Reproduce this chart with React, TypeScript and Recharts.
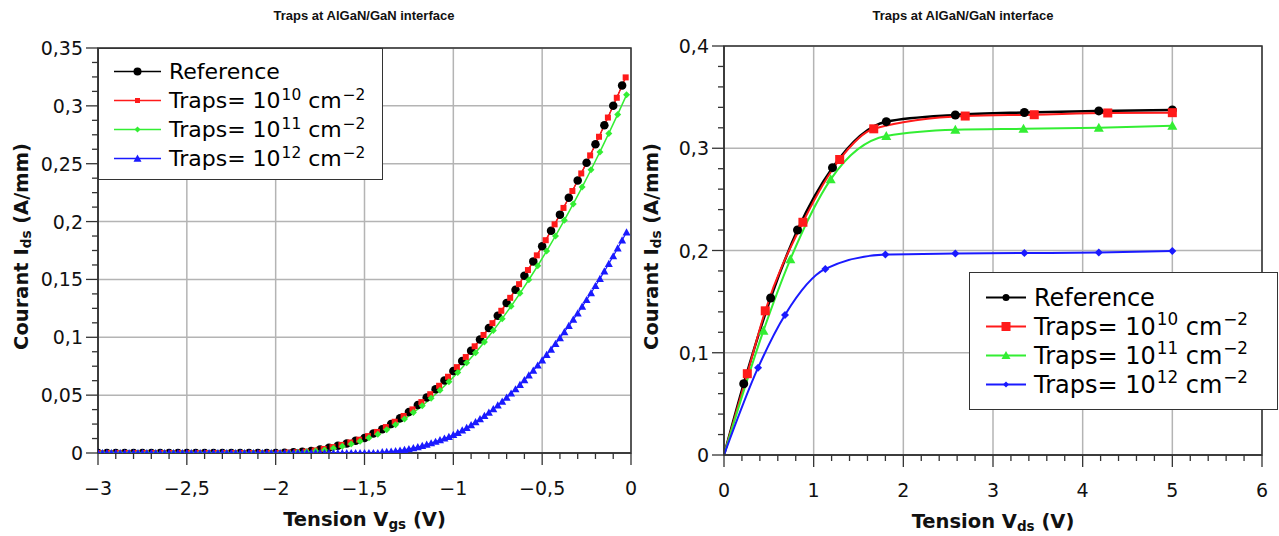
import React from "react";
import { LineChart, Line, XAxis, YAxis, CartesianGrid, ReferenceArea, Label } from "recharts";

// ---- left chart: Ids(Vgs) ----
const refVgs = [-3, -2.95, -2.9, -2.85, -2.8, -2.75, -2.7, -2.65, -2.6, -2.55, -2.5, -2.45, -2.4, -2.35, -2.3, -2.25, -2.2, -2.15, -2.1, -2.05, -2, -1.95, -1.9, -1.85, -1.8, -1.75, -1.7, -1.65, -1.6, -1.55, -1.5, -1.45, -1.4, -1.35, -1.3, -1.25, -1.2, -1.15, -1.1, -1.05, -1, -0.95, -0.9, -0.85, -0.8, -0.75, -0.7, -0.65, -0.6, -0.55, -0.5, -0.45, -0.4, -0.35, -0.3, -0.25, -0.2, -0.15, -0.1, -0.05];
const refIdsVgs = [0, 0, 0, 0, 0, 0, 0, 0, 0, 0, 0, 0, 0, 0, 0, 0, 0, 0, 0, 0, 0.0001, 0.0003, 0.0006, 0.001, 0.0018, 0.003, 0.0045, 0.0062, 0.0082, 0.0105, 0.013, 0.0168, 0.0205, 0.025, 0.03, 0.0355, 0.0414, 0.048, 0.0551, 0.0627, 0.0708, 0.0794, 0.0884, 0.098, 0.108, 0.1186, 0.1296, 0.1411, 0.1531, 0.1656, 0.1786, 0.1921, 0.206, 0.2205, 0.2354, 0.2509, 0.2668, 0.2832, 0.3001, 0.3175];

const t10Vgs = [-2.98, -2.93, -2.88, -2.83, -2.78, -2.73, -2.68, -2.63, -2.58, -2.53, -2.48, -2.43, -2.38, -2.33, -2.28, -2.23, -2.18, -2.13, -2.08, -2.03, -1.98, -1.93, -1.88, -1.83, -1.78, -1.73, -1.68, -1.63, -1.58, -1.53, -1.48, -1.43, -1.38, -1.33, -1.28, -1.23, -1.18, -1.13, -1.08, -1.03, -0.98, -0.93, -0.88, -0.83, -0.78, -0.73, -0.68, -0.63, -0.58, -0.53, -0.48, -0.43, -0.38, -0.33, -0.28, -0.23, -0.18, -0.13, -0.08, -0.03];
const t10IdsVgs = [0, 0, 0, 0, 0, 0, 0, 0, 0, 0, 0, 0, 0, 0, 0, 0, 0, 0, 0, 0, 0, 0.0004, 0.0007, 0.0012, 0.0022, 0.0035, 0.0051, 0.007, 0.0091, 0.0115, 0.0146, 0.0182, 0.0224, 0.027, 0.032, 0.0377, 0.044, 0.0508, 0.0581, 0.0659, 0.0742, 0.0829, 0.0922, 0.102, 0.1122, 0.1229, 0.1341, 0.1459, 0.1581, 0.1708, 0.1839, 0.1976, 0.2118, 0.2264, 0.2416, 0.2572, 0.2733, 0.2899, 0.307, 0.3246];

const t11Vgs = [-2.975, -2.925, -2.875, -2.825, -2.775, -2.725, -2.675, -2.625, -2.575, -2.525, -2.475, -2.425, -2.375, -2.325, -2.275, -2.225, -2.175, -2.125, -2.075, -2.025, -1.975, -1.925, -1.875, -1.825, -1.775, -1.725, -1.675, -1.625, -1.575, -1.525, -1.475, -1.425, -1.375, -1.325, -1.275, -1.225, -1.175, -1.125, -1.075, -1.025, -0.975, -0.925, -0.875, -0.825, -0.775, -0.725, -0.675, -0.625, -0.575, -0.525, -0.475, -0.425, -0.375, -0.325, -0.275, -0.225, -0.175, -0.125, -0.075, -0.025];
const t11IdsVgs = [0, 0, 0, 0, 0, 0, 0, 0, 0, 0, 0, 0, 0, 0, 0, 0, 0, 0, 0, 0, 0, 0.0003, 0.0006, 0.001, 0.0017, 0.0027, 0.004, 0.0058, 0.0078, 0.0102, 0.0131, 0.0163, 0.0201, 0.0244, 0.0293, 0.0349, 0.0408, 0.0473, 0.0542, 0.0616, 0.0696, 0.0779, 0.0867, 0.096, 0.1058, 0.1161, 0.1268, 0.138, 0.1497, 0.1618, 0.1745, 0.1876, 0.2012, 0.2152, 0.2298, 0.2448, 0.2602, 0.2762, 0.2926, 0.3095];

const t12Vgs = [-3, -2.975, -2.95, -2.925, -2.9, -2.875, -2.85, -2.825, -2.8, -2.775, -2.75, -2.725, -2.7, -2.675, -2.65, -2.625, -2.6, -2.575, -2.55, -2.525, -2.5, -2.475, -2.45, -2.425, -2.4, -2.375, -2.35, -2.325, -2.3, -2.275, -2.25, -2.225, -2.2, -2.175, -2.15, -2.125, -2.1, -2.075, -2.05, -2.025, -2, -1.975, -1.95, -1.925, -1.9, -1.875, -1.85, -1.825, -1.8, -1.775, -1.75, -1.725, -1.7, -1.675, -1.65, -1.625, -1.6, -1.575, -1.55, -1.525, -1.5, -1.475, -1.45, -1.425, -1.4, -1.375, -1.35, -1.325, -1.3, -1.275, -1.25, -1.225, -1.2, -1.175, -1.15, -1.125, -1.1, -1.075, -1.05, -1.025, -1, -0.975, -0.95, -0.925, -0.9, -0.875, -0.85, -0.825, -0.8, -0.775, -0.75, -0.725, -0.7, -0.675, -0.65, -0.625, -0.6, -0.575, -0.55, -0.525, -0.5, -0.475, -0.45, -0.425, -0.4, -0.375, -0.35, -0.325, -0.3, -0.275, -0.25, -0.225, -0.2, -0.175, -0.15, -0.125, -0.1, -0.075, -0.05, -0.025];
const t12IdsVgs = [0, 0, 0, 0, 0, 0, 0, 0, 0, 0, 0, 0, 0, 0, 0, 0, 0, 0, 0, 0, 0, 0, 0, 0, 0, 0, 0, 0, 0, 0, 0, 0, 0, 0, 0, 0, 0, 0, 0, 0, 0, 0, 0, 0, 0, 0, 0, 0, 0, 0, 0, 0, 0, 0, 0, 0, 0, 0, 0, 0, 0, 0, 0, 0, 0.0008, 0.001, 0.0013, 0.0017, 0.0022, 0.0028, 0.0035, 0.0043, 0.0052, 0.0062, 0.0073, 0.0085, 0.0098, 0.0112, 0.0126, 0.0141, 0.0157, 0.0175, 0.0196, 0.0218, 0.0242, 0.0267, 0.0293, 0.0321, 0.035, 0.038, 0.0412, 0.0445, 0.048, 0.0515, 0.0552, 0.059, 0.063, 0.0671, 0.0713, 0.0757, 0.0802, 0.0848, 0.0895, 0.0944, 0.0994, 0.1046, 0.1099, 0.1153, 0.1208, 0.1265, 0.1323, 0.1383, 0.1444, 0.1506, 0.157, 0.1635, 0.1701, 0.1769, 0.1838, 0.1908];

const vgsMajor = [-3, -2.5, -2, -1.5, -1, -0.5, 0];
const vgsMinor = [-3, -2.9, -2.8, -2.7, -2.6, -2.5, -2.4, -2.3, -2.2, -2.1, -2, -1.9, -1.8, -1.7, -1.6, -1.5, -1.4, -1.3, -1.2, -1.1, -1, -0.9, -0.8, -0.7, -0.6, -0.5, -0.4, -0.3, -0.2, -0.1, 0];
const idsLeftMajor = [0, 0.05, 0.1, 0.15, 0.2, 0.25, 0.3, 0.35];
const idsLeftMinor = [0, 0.0125, 0.025, 0.0375, 0.05, 0.0625, 0.075, 0.0875, 0.1, 0.1125, 0.125, 0.1375, 0.15, 0.1625, 0.175, 0.1875, 0.2, 0.2125, 0.225, 0.2375, 0.25, 0.2625, 0.275, 0.2875, 0.3, 0.3125, 0.325, 0.3375, 0.35];

// ---- right chart: Ids(Vds) ----
const refVds = [0, 0.22, 0.52, 0.82, 1.21, 1.81, 2.58, 3.35, 4.18, 5.0];
const refIdsVds = [0, 0.0697, 0.1535, 0.22, 0.281, 0.326, 0.3325, 0.335, 0.3365, 0.3374];
const t10Vds = [0, 0.26, 0.46, 0.88, 1.29, 1.67, 2.69, 3.46, 4.28, 5.0];
const t10IdsVds = [0, 0.0795, 0.141, 0.2276, 0.289, 0.319, 0.3315, 0.3328, 0.3345, 0.3348];
const t11Vds = [0, 0.44, 0.74, 1.19, 1.81, 2.58, 3.34, 4.18, 5.0];
const t11IdsVds = [0, 0.1216, 0.1914, 0.2696, 0.312, 0.318, 0.319, 0.32, 0.322];
const t12Vds = [0, 0.38, 0.68, 1.13, 1.8, 2.58, 3.35, 4.18, 5.0];
const t12IdsVds = [0, 0.0854, 0.137, 0.182, 0.196, 0.197, 0.1975, 0.198, 0.1995];

const vdsMajor = [0, 1, 2, 3, 4, 5, 6];
const vdsMinor = [0, 0.2, 0.4, 0.6, 0.8, 1, 1.2, 1.4, 1.6, 1.8, 2, 2.2, 2.4, 2.6, 2.8, 3, 3.2, 3.4, 3.6, 3.8, 4, 4.2, 4.4, 4.6, 4.8, 5, 5.2, 5.4, 5.6, 5.8, 6];
const idsRightMajor = [0, 0.1, 0.2, 0.3, 0.4];
const idsRightMinor = [0, 0.02, 0.04, 0.06, 0.08, 0.1, 0.12, 0.14, 0.16, 0.18, 0.2, 0.22, 0.24, 0.26, 0.28, 0.3, 0.32, 0.34, 0.36, 0.38, 0.4];

const BLACK = "#000000";
const RED = "#ff1a1a";
const GREEN = "#33ee33";
const BLUE = "#1a1aff";
const AXIS = "#333333";
const GRID = "#b4b4b4";
const FONT = '"DejaVu Sans", Verdana, sans-serif';

const zip = (xs: number[], ys: number[]) => xs.map((x, i) => ({ x, y: ys[i] }));

const fmt = (v: number) => {
  const s = String(Math.round(v * 10000) / 10000).replace(".", ",");
  return s.startsWith("-") ? "\u2212" + s.slice(1) : s;
};
const isIn = (v: number, arr: number[]) => arr.some((a) => Math.abs(a - v) < 1e-9);

type Shape = "circle" | "square" | "diamond" | "triangle";

function Marker({ shape, x, y, size, color }: { shape: Shape; x: number; y: number; size: number; color: string }) {
  const h = size / 2;
  if (shape === "circle") return <circle cx={x} cy={y} r={h} fill={color} />;
  if (shape === "square") return <rect x={x - h} y={y - h} width={size} height={size} fill={color} />;
  if (shape === "diamond")
    return <polygon points={`${x},${y - h} ${x + h},${y} ${x},${y + h} ${x - h},${y}`} fill={color} />;
  return <polygon points={`${x},${y - h} ${x + h},${y + h * 0.8} ${x - h},${y + h * 0.8}`} fill={color} />;
}

const makeDot = (shape: Shape, size: number, color: string, skipOrigin = false) => (props: any) => {
  const { cx, cy, index, payload } = props;
  if (cx == null || cy == null || (skipOrigin && payload.x === 0)) return <g key={index} />;
  return <Marker key={index} shape={shape} x={cx} y={cy} size={size} color={color} />;
};

const xTick = (majors: number[], labelDy: number) => (props: any) => {
  const { x, y, payload } = props;
  const major = isIn(payload.value, majors);
  return (
    <g>
      <line x1={x} y1={y} x2={x} y2={y + (major ? 12 : 6)} stroke={AXIS} strokeWidth={1.3} />
      {major && (
        <text x={x} y={y + labelDy} textAnchor="middle" dominantBaseline="central" fontFamily={FONT} fontSize={19} fill="#111">
          {fmt(payload.value)}
        </text>
      )}
    </g>
  );
};

const yTick = (majors: number[]) => (props: any) => {
  const { x, y, payload } = props;
  const major = isIn(payload.value, majors);
  return (
    <g>
      <line x1={x - (major ? 12 : 6)} y1={y} x2={x} y2={y} stroke={AXIS} strokeWidth={1.3} />
      {major && (
        <text x={x - 15} y={y} textAnchor="end" dominantBaseline="central" fontFamily={FONT} fontSize={19} fill="#111">
          {fmt(payload.value)}
        </text>
      )}
    </g>
  );
};

const xTitle = (sub: string) => (props: any) => {
  const vb = props.viewBox;
  return (
    <text x={vb.x + vb.width / 2} y={vb.y + 66} textAnchor="middle" dominantBaseline="central" fontFamily={FONT} fontWeight="bold" fontSize={19.5} fill="#111">
      Tension V<tspan dy={5} fontSize={13.5}>{sub}</tspan>
      <tspan dy={-5}> (V)</tspan>
    </text>
  );
};

const yTitle = (cx: number) => (props: any) => {
  const vb = props.viewBox;
  const cy = vb.y + vb.height / 2 - 4;
  return (
    <text x={cx} y={cy} transform={`rotate(-90, ${cx}, ${cy})`} textAnchor="middle" dominantBaseline="central" fontFamily={FONT} fontWeight="bold" fontSize={19.5} fill="#111">
      Courant I<tspan dy={5} fontSize={13.5}>ds</tspan>
      <tspan dy={-5}> (A/mm)</tspan>
    </text>
  );
};

function Title({ center }: { center: number }) {
  return (
    <div
      style={{
        position: "absolute",
        left: center - 150,
        top: 8,
        width: 300,
        textAlign: "center",
        fontFamily: '"Liberation Sans", Arial, sans-serif',
        fontWeight: "bold",
        fontSize: 13,
        color: "#111",
      }}
    >
      Traps at AlGaN/GaN interface
    </div>
  );
}

const supStyle: React.CSSProperties = { fontSize: "0.7em", position: "relative", top: "-0.55em", verticalAlign: "baseline", marginLeft: 1 };

const legendRows: { label: React.ReactNode; color: string }[] = [
  { label: "Reference", color: BLACK },
  { label: <>Traps= 10<span style={supStyle}>10</span> cm<span style={supStyle}>−2</span></>, color: RED },
  { label: <>Traps= 10<span style={supStyle}>11</span> cm<span style={supStyle}>−2</span></>, color: GREEN },
  { label: <>Traps= 10<span style={supStyle}>12</span> cm<span style={supStyle}>−2</span></>, color: BLUE },
];

function LegendBox({
  left, top, width, height, padTop, rowH, lineX1, lineX2, iconW, fontSize, shapes, sizes, lineW,
}: {
  left: number; top: number; width: number; height: number; padTop: number; rowH: number;
  lineX1: number; lineX2: number; iconW: number; fontSize: number; shapes: Shape[]; sizes: number[]; lineW: number;
}) {
  return (
    <div
      style={{
        position: "absolute", left, top, width, height, boxSizing: "border-box",
        border: `1.5px solid ${AXIS}`, background: "#fff", paddingTop: padTop, fontFamily: FONT, fontSize, color: "#000",
      }}
    >
      {legendRows.map((r, i) => (
        <div key={i} style={{ display: "flex", alignItems: "center", height: rowH, whiteSpace: "nowrap" }}>
          <svg width={iconW} height={rowH} style={{ flex: "none" }}>
            <line x1={lineX1} y1={rowH / 2} x2={lineX2} y2={rowH / 2} stroke={r.color} strokeWidth={lineW} />
            <Marker shape={shapes[i]} x={(lineX1 + lineX2) / 2} y={rowH / 2} size={sizes[i]} color={r.color} />
          </svg>
          <span>{r.label}</span>
        </div>
      ))}
    </div>
  );
}

function LeftChart() {
  return (
    <LineChart width={640} height={536} margin={{ top: 48, right: 9, bottom: 23, left: 38 }}>
      <CartesianGrid stroke={GRID} strokeWidth={1.5} verticalValues={vgsMajor} horizontalValues={idsLeftMajor} />
      <XAxis
        dataKey="x" type="number" domain={[-3, 0]} ticks={vgsMinor} interval={0} height={60}
        allowDataOverflow tickLine={false} tickSize={0} tickMargin={0}
        axisLine={{ stroke: AXIS, strokeWidth: 1.5 }} tick={xTick(vgsMajor, 35)}
      >
        <Label content={xTitle("gs")} />
      </XAxis>
      <YAxis
        dataKey="y" type="number" domain={[0, 0.35]} ticks={idsLeftMinor} interval={0} width={60}
        allowDataOverflow tickLine={false} tickSize={0} tickMargin={0}
        axisLine={{ stroke: AXIS, strokeWidth: 1.5 }} tick={yTick(idsLeftMajor)}
      >
        <Label content={yTitle(21)} />
      </YAxis>
      <ReferenceArea x1={-3} x2={0} y1={0} y2={0.35} fill="none" stroke={AXIS} strokeWidth={1.5} />
      <Line data={zip(refVgs, refIdsVgs)} dataKey="y" stroke={BLACK} strokeWidth={1} dot={makeDot("circle", 8.5, BLACK)} isAnimationActive={false} />
      <Line data={zip(t10Vgs, t10IdsVgs)} dataKey="y" stroke={RED} strokeWidth={1.5} dot={makeDot("square", 6, RED)} isAnimationActive={false} />
      <Line data={zip(t11Vgs, t11IdsVgs)} dataKey="y" stroke={GREEN} strokeWidth={1.5} dot={makeDot("diamond", 7, GREEN)} isAnimationActive={false} />
      <Line data={zip(t12Vgs, t12IdsVgs)} dataKey="y" stroke={BLUE} strokeWidth={1.2} dot={makeDot("triangle", 8, BLUE)} isAnimationActive={false} />
    </LineChart>
  );
}

function RightChart() {
  return (
    <LineChart width={639} height={536} margin={{ top: 46, right: 17, bottom: 21, left: 24 }}>
      <CartesianGrid stroke={GRID} strokeWidth={1.5} verticalValues={vdsMajor} horizontalValues={idsRightMajor} />
      <XAxis
        dataKey="x" type="number" domain={[0, 6]} ticks={vdsMinor} interval={0} height={60}
        allowDataOverflow tickLine={false} tickSize={0} tickMargin={0}
        axisLine={{ stroke: AXIS, strokeWidth: 1.5 }} tick={xTick(vdsMajor, 35)}
      >
        <Label content={xTitle("ds")} />
      </XAxis>
      <YAxis
        dataKey="y" type="number" domain={[0, 0.4]} ticks={idsRightMinor} interval={0} width={60}
        allowDataOverflow tickLine={false} tickSize={0} tickMargin={0}
        axisLine={{ stroke: AXIS, strokeWidth: 1.5 }} tick={yTick(idsRightMajor)}
      >
        <Label content={yTitle(11)} />
      </YAxis>
      <ReferenceArea x1={0} x2={6} y1={0} y2={0.4} fill="none" stroke={AXIS} strokeWidth={1.5} />
      <Line data={zip(refVds, refIdsVds)} dataKey="y" type="monotone" stroke={BLACK} strokeWidth={2.5} dot={makeDot("circle", 9, BLACK, true)} isAnimationActive={false} />
      <Line data={zip(t10Vds, t10IdsVds)} dataKey="y" type="monotone" stroke={RED} strokeWidth={2} dot={makeDot("square", 9, RED, true)} isAnimationActive={false} />
      <Line data={zip(t11Vds, t11IdsVds)} dataKey="y" type="monotone" stroke={GREEN} strokeWidth={2} dot={makeDot("triangle", 10, GREEN, true)} isAnimationActive={false} />
      <Line data={zip(t12Vds, t12IdsVds)} dataKey="y" type="monotone" stroke={BLUE} strokeWidth={2} dot={makeDot("diamond", 8, BLUE, true)} isAnimationActive={false} />
    </LineChart>
  );
}

export default function App() {
  return (
    <div style={{ position: "absolute", left: 0, top: 0, width: 1279, height: 536, background: "#fff", overflow: "hidden" }}>
      <div style={{ position: "absolute", left: 0, top: 0 }}>
        <LeftChart />
      </div>
      <div style={{ position: "absolute", left: 640, top: 0 }}>
        <RightChart />
      </div>
      <Title center={364} />
      <Title center={963} />
      <LegendBox
        left={98} top={48} width={285} height={132} padTop={8} rowH={29}
        lineX1={15} lineX2={62} iconW={70} fontSize={22}
        shapes={["circle", "square", "diamond", "triangle"]} sizes={[8, 5, 6, 8]} lineW={1.5}
      />
      <LegendBox
        left={969} top={272} width={309} height={138} padTop={10} rowH={29}
        lineX1={16} lineX2={56} iconW={64} fontSize={24}
        shapes={["circle", "square", "triangle", "diamond"]} sizes={[7, 9, 9, 6]} lineW={2}
      />
    </div>
  );
}
